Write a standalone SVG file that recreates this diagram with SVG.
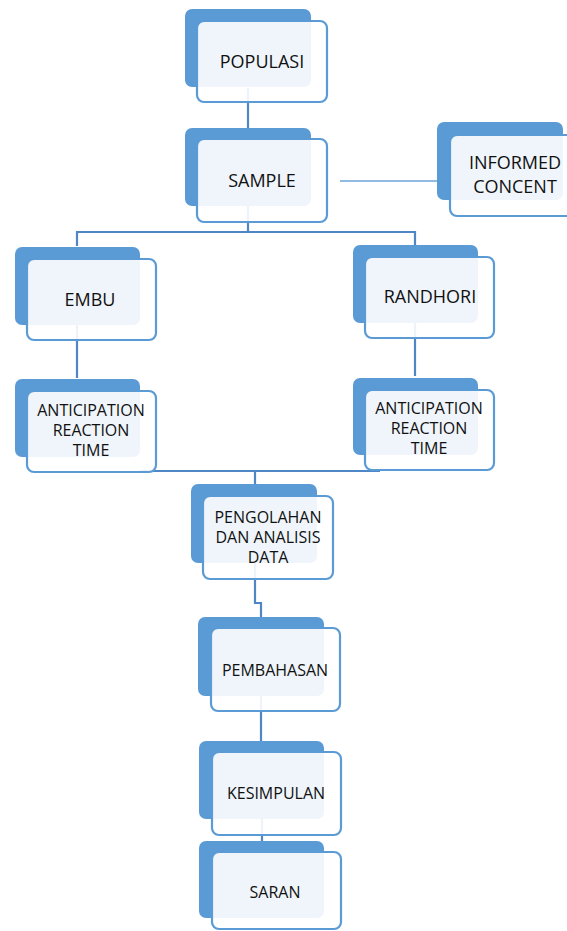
<svg xmlns="http://www.w3.org/2000/svg" width="567" height="931" viewBox="0 0 567 931">
<style>
.bg{fill:#5B9BD5}
.fg{fill:#ffffff;fill-opacity:0.9;stroke:#5B9BD5;stroke-width:2.2}
.t{font-family:"Open Sans","Liberation Sans",sans-serif;fill:#111;text-anchor:middle}
.big{font-size:18px}
.mid{font-size:16px}
.sm{font-size:16px}
.c{fill:none;stroke:#4F86C6;stroke-width:2.2}
.cl{fill:none;stroke:#6FA3DA;stroke-width:1.5}
</style>
<rect width="567" height="931" fill="#fff"/>
<g id="connectors">
<path class="c" d="M248 88V128"/>
<path class="c" d="M248 206V232H77V246M248 232H415V245"/>
<path class="cl" d="M340 181H463"/>
<path class="c" d="M77 325V378"/>
<path class="c" d="M415 323V376"/>
<path class="c" d="M140 471H380M255 471V485"/>
<path class="c" d="M255 563V603H261V617"/>
<path class="c" d="M261 696V741"/>
<path class="c" d="M262 819V841"/>
</g>
<g id="populasi">
<rect class="bg" x="185" y="9" width="126" height="78" rx="7"/>
<rect class="fg" x="197" y="21" width="130" height="81" rx="7"/>
<text class="t big" x="262" y="68">POPULASI</text>
</g>
<g id="sample">
<rect class="bg" x="185" y="128" width="126" height="78" rx="7"/>
<rect class="fg" x="197" y="139" width="130" height="83" rx="7"/>
<text class="t big" x="262" y="187">SAMPLE</text>
</g>
<g id="informed">
<rect class="bg" x="437" y="122" width="126" height="78" rx="7"/>
<rect class="fg" x="450" y="135" width="130" height="81" rx="7"/>
<text class="t big" x="515" y="169">INFORMED</text>
<text class="t big" x="515" y="193">CONCENT</text>
</g>
<g id="embu">
<rect class="bg" x="15" y="247" width="125" height="78" rx="7"/>
<rect class="fg" x="27" y="259" width="129" height="81" rx="7"/>
<text class="t big" x="90" y="306">EMBU</text>
</g>
<g id="randhori">
<rect class="bg" x="353" y="245" width="125" height="78" rx="7"/>
<rect class="fg" x="365" y="257" width="129" height="81" rx="7"/>
<text class="t big" x="430" y="303">RANDHORI</text>
</g>
<g id="art-left">
<rect class="bg" x="15" y="379" width="125" height="78" rx="7"/>
<rect class="fg" x="27" y="391" width="129" height="81" rx="7"/>
<text class="t sm" x="91" y="416">ANTICIPATION</text>
<text class="t sm" x="91" y="436">REACTION</text>
<text class="t sm" x="91" y="456">TIME</text>
</g>
<g id="art-right">
<rect class="bg" x="353" y="378" width="125" height="77" rx="7"/>
<rect class="fg" x="365" y="390" width="129" height="80" rx="7"/>
<text class="t sm" x="429" y="414">ANTICIPATION</text>
<text class="t sm" x="429" y="434">REACTION</text>
<text class="t sm" x="429" y="454">TIME</text>
</g>
<g id="pengolahan">
<rect class="bg" x="191" y="484" width="126" height="79" rx="7"/>
<rect class="fg" x="203" y="496" width="130" height="83" rx="7"/>
<text class="t mid" x="268" y="523">PENGOLAHAN</text>
<text class="t mid" x="268" y="543">DAN ANALISIS</text>
<text class="t mid" x="268" y="563">DATA</text>
</g>
<g id="pembahasan">
<rect class="bg" x="198" y="617" width="126" height="79" rx="7"/>
<rect class="fg" x="211" y="628" width="129" height="83" rx="7"/>
<text class="t mid" x="275" y="676">PEMBAHASAN</text>
</g>
<g id="kesimpulan">
<rect class="bg" x="199" y="741" width="125" height="78" rx="7"/>
<rect class="fg" x="212" y="752" width="129" height="83" rx="7"/>
<text class="t mid" x="276" y="799">KESIMPULAN</text>
</g>
<g id="saran">
<rect class="bg" x="199" y="841" width="125" height="77" rx="7"/>
<rect class="fg" x="212" y="852" width="129" height="77" rx="7"/>
<text class="t mid" x="275" y="898">SARAN</text>
</g>
</svg>
